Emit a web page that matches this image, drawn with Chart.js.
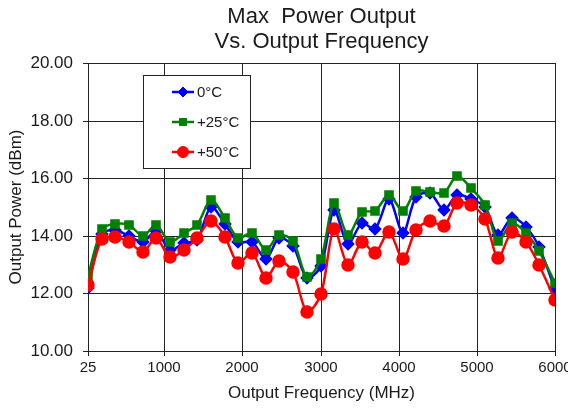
<!DOCTYPE html>
<html lang="en">
<head>
    <meta charset="UTF-8">
    <title>Max Power Output Vs. Output Frequency</title>
    <script src="https://cdn.jsdelivr.net/npm/chart.js@4.4.0/dist/chart.umd.min.js"></script>
    <style>
        body { margin: 0; background: #fff; }
    </style>
</head>
<body>
<canvas id="myChart" width="568" height="408"></canvas>
<script>
    // frequency points, 175 MHz apart, last one at 6000
    const freqMHz = [25, 200, 375, 550, 725, 900, 1075, 1250, 1425, 1600, 1775, 1950,
        2125, 2300, 2475, 2650, 2825, 3000, 3175, 3350, 3525, 3700, 3875, 4050,
        4225, 4400, 4575, 4750, 4925, 5100, 5275, 5450, 5625, 5800, 6000];

    const power0C = [12.20, 14.05, 14.20, 14.00, 13.77, 14.16,
        13.50, 13.75, 13.85, 15.00, 14.40, 13.79,
        13.79, 13.19, 13.93, 13.64, 12.55, 12.95,
        14.89, 13.70, 14.45, 14.23, 15.29,
        14.10, 15.35, 15.47, 14.91, 15.43, 15.29,
        15.00, 14.02, 14.62, 14.31, 13.62, 12.17];

    const power25C = [12.60, 14.23, 14.41, 14.36, 13.99, 14.39,
        13.77, 14.11, 14.37, 15.26, 14.62, 13.91,
        14.08, 13.52, 14.04, 13.82, 12.58, 13.18,
        15.14, 14.02, 14.83, 14.86, 15.43,
        14.86, 15.55, 15.52, 15.49, 16.07, 15.66,
        15.06, 13.81, 14.46, 14.08, 13.47, 12.37];

    const power50C = [12.30, 13.90, 13.95, 13.80, 13.44, 13.94,
        13.27, 13.52, 13.94, 14.51, 13.96, 13.06,
        13.39, 12.55, 13.12, 12.75, 11.36, 11.98,
        14.22, 12.98, 13.79, 13.39, 14.14,
        13.21, 14.19, 14.52, 14.34, 15.15, 15.06,
        14.58, 13.23, 14.14, 13.79, 12.98, 11.77];

    const xTicks = [25, 1000, 2000, 3000, 4000, 5000, 6000];
    const seriesLabels = ['0°C', '+25°C', '+50°C'];
    const titleLines = ['Max  Power Output', 'Vs. Output Frequency'];

    const textColor = '#1a1a1a';
    const fontFamily = '"Liberation Sans", Arial, Helvetica, sans-serif';

    function toPoints(ys) {
        return freqMHz.map((f, i) => ({ x: f, y: ys[i] }));
    }

    // title centred over the plot, not the whole canvas
    const plotTitle = {
        id: 'plotTitle',
        afterDraw(chart) {
            const ctx = chart.ctx;
            const cx = (chart.chartArea.left + chart.chartArea.right) / 2;
            ctx.save();
            ctx.fillStyle = textColor;
            ctx.font = '22px ' + fontFamily;
            ctx.textAlign = 'center';
            ctx.textBaseline = 'middle';
            ctx.fillText(titleLines[0], cx, 17);
            ctx.fillText(titleLines[1], cx, 42);
            ctx.restore();
        }
    };

    // legend box sitting inside the plot, like the original
    const boxLegend = {
        id: 'boxLegend',
        afterDraw(chart) {
            const ctx = chart.ctx;
            const bx = 143, by = 75, bw = 107, bh = 93;
            ctx.save();
            ctx.fillStyle = '#fff';
            ctx.fillRect(bx, by, bw, bh);
            ctx.strokeStyle = '#222';
            ctx.lineWidth = 1;
            ctx.strokeRect(bx + 0.5, by + 0.5, bw, bh);
            const rows = [92, 122, 152];
            chart.data.datasets.forEach((ds, i) => {
                const y = rows[i];
                ctx.strokeStyle = ds.borderColor;
                ctx.fillStyle = ds.borderColor;
                ctx.lineWidth = ds.borderWidth;
                ctx.beginPath();
                ctx.moveTo(172, y);
                ctx.lineTo(194, y);
                ctx.stroke();
                ctx.lineWidth = 1;
                Chart.helpers.drawPoint(ctx, {
                    pointStyle: ds.pointStyle,
                    radius: ds.pointRadius,
                    borderWidth: 1
                }, 183, y);
                ctx.fillStyle = textColor;
                ctx.font = '15px ' + fontFamily;
                ctx.textAlign = 'left';
                ctx.textBaseline = 'middle';
                ctx.fillText(seriesLabels[i], 197, y + 1);
            });
            ctx.restore();
        }
    };

    function series(label, data, color, style, radius, order) {
        return {
            label: label,
            data: toPoints(data),
            borderColor: color,
            backgroundColor: color,
            pointBackgroundColor: color,
            pointBorderColor: color,
            borderWidth: 2.5,
            pointStyle: style,
            pointRadius: radius,
            tension: 0.3,
            order: order
        };
    }

    const ctx = document.getElementById('myChart').getContext('2d');
    const myChart = new Chart(ctx, {
        type: 'line',
        data: {
            datasets: [
                series(seriesLabels[0], power0C, '#0000ff', 'rectRot', 5, 2),
                series(seriesLabels[1], power25C, '#008000', 'rect', 5, 1),
                series(seriesLabels[2], power50C, '#ff0000', 'circle', 5.5, 0)
            ]
        },
        options: {
            responsive: false,
            animation: false,
            layout: { padding: { top: 63, right: 13, bottom: 0, left: 0 } },
            plugins: {
                legend: { display: false },
                tooltip: { enabled: false },
                title: { display: false }
            },
            scales: {
                x: {
                    type: 'linear',
                    min: 25,
                    max: 6000,
                    alignToPixels: true,
                    afterBuildTicks: (axis) => {
                        axis.ticks = xTicks.map(v => ({ value: v }));
                    },
                    afterFit: (s) => {
                        s.height = 57;
                        s.paddingLeft = 0;
                        s.paddingRight = 0;
                    },
                    grid: { color: '#222', lineWidth: 1, tickLength: 5 },
                    border: { color: '#222', width: 1 },
                    ticks: {
                        color: textColor,
                        font: { family: fontFamily, size: 15 },
                        padding: 3,
                        maxRotation: 0,
                        autoSkip: false,
                        callback: (v) => String(v)
                    },
                    title: {
                        display: true,
                        text: 'Output Frequency (MHz)',
                        color: textColor,
                        font: { family: fontFamily, size: 17 },
                        padding: { top: 0, bottom: 4 }
                    }
                },
                y: {
                    min: 10,
                    max: 20,
                    alignToPixels: true,
                    afterFit: (s) => {
                        s.width = 88;
                        s.paddingTop = 0;
                        s.paddingBottom = 0;
                    },
                    grid: { color: '#222', lineWidth: 1, tickLength: 5 },
                    border: { color: '#222', width: 1 },
                    ticks: {
                        stepSize: 2,
                        color: textColor,
                        font: { family: fontFamily, size: 17 },
                        padding: 10,
                        callback: (v) => v.toFixed(2)
                    },
                    title: {
                        display: true,
                        text: 'Output Power (dBm)',
                        color: textColor,
                        font: { family: fontFamily, size: 17 },
                        padding: { top: 6, bottom: 0 }
                    }
                }
            }
        },
        plugins: [plotTitle, boxLegend]
    });
</script>
</body>
</html>
